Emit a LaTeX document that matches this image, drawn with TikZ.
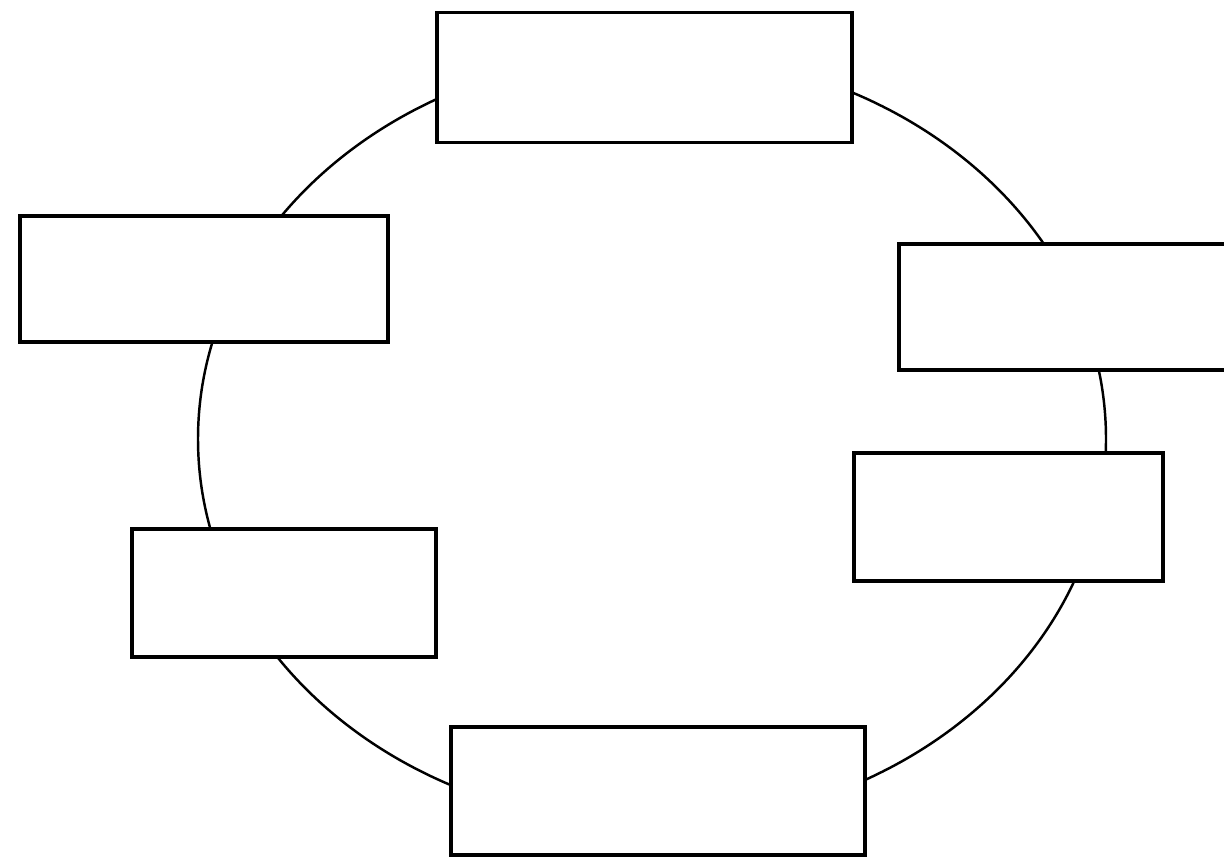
\documentclass[tikz,border=0pt]{standalone}
\usetikzlibrary{shapes.geometric}
\begin{document}
\begin{tikzpicture}[x=0.02cm,y=-0.02cm,
  box/.style={draw=black,fill=white,line width=2.2pt,rectangle,inner sep=0pt,outer sep=0pt},
  ring/.style={draw=black,line width=1.4pt}]
\useasboundingbox (0,0) rectangle (1224,861);
\fill[white] (0,0) rectangle (1224,861);
\node[ring,ellipse,minimum width=908*0.02cm,minimum height=772*0.02cm,inner sep=0pt] (ring) at (652,439) {};
\node[box,minimum width=415*0.02cm,minimum height=130*0.02cm] (top) at (644.5,77.5) {};
\node[box,minimum width=368*0.02cm,minimum height=126*0.02cm] (lu) at (204,279) {};
\node[box,minimum width=340*0.02cm,minimum height=126*0.02cm] (ru) at (1069,307) {};
\node[box,minimum width=309*0.02cm,minimum height=128*0.02cm] (rl) at (1008.5,517) {};
\node[box,minimum width=304*0.02cm,minimum height=128*0.02cm] (ll) at (284,593) {};
\node[box,minimum width=414*0.02cm,minimum height=128*0.02cm] (bot) at (658,791) {};
\end{tikzpicture}
\end{document}
